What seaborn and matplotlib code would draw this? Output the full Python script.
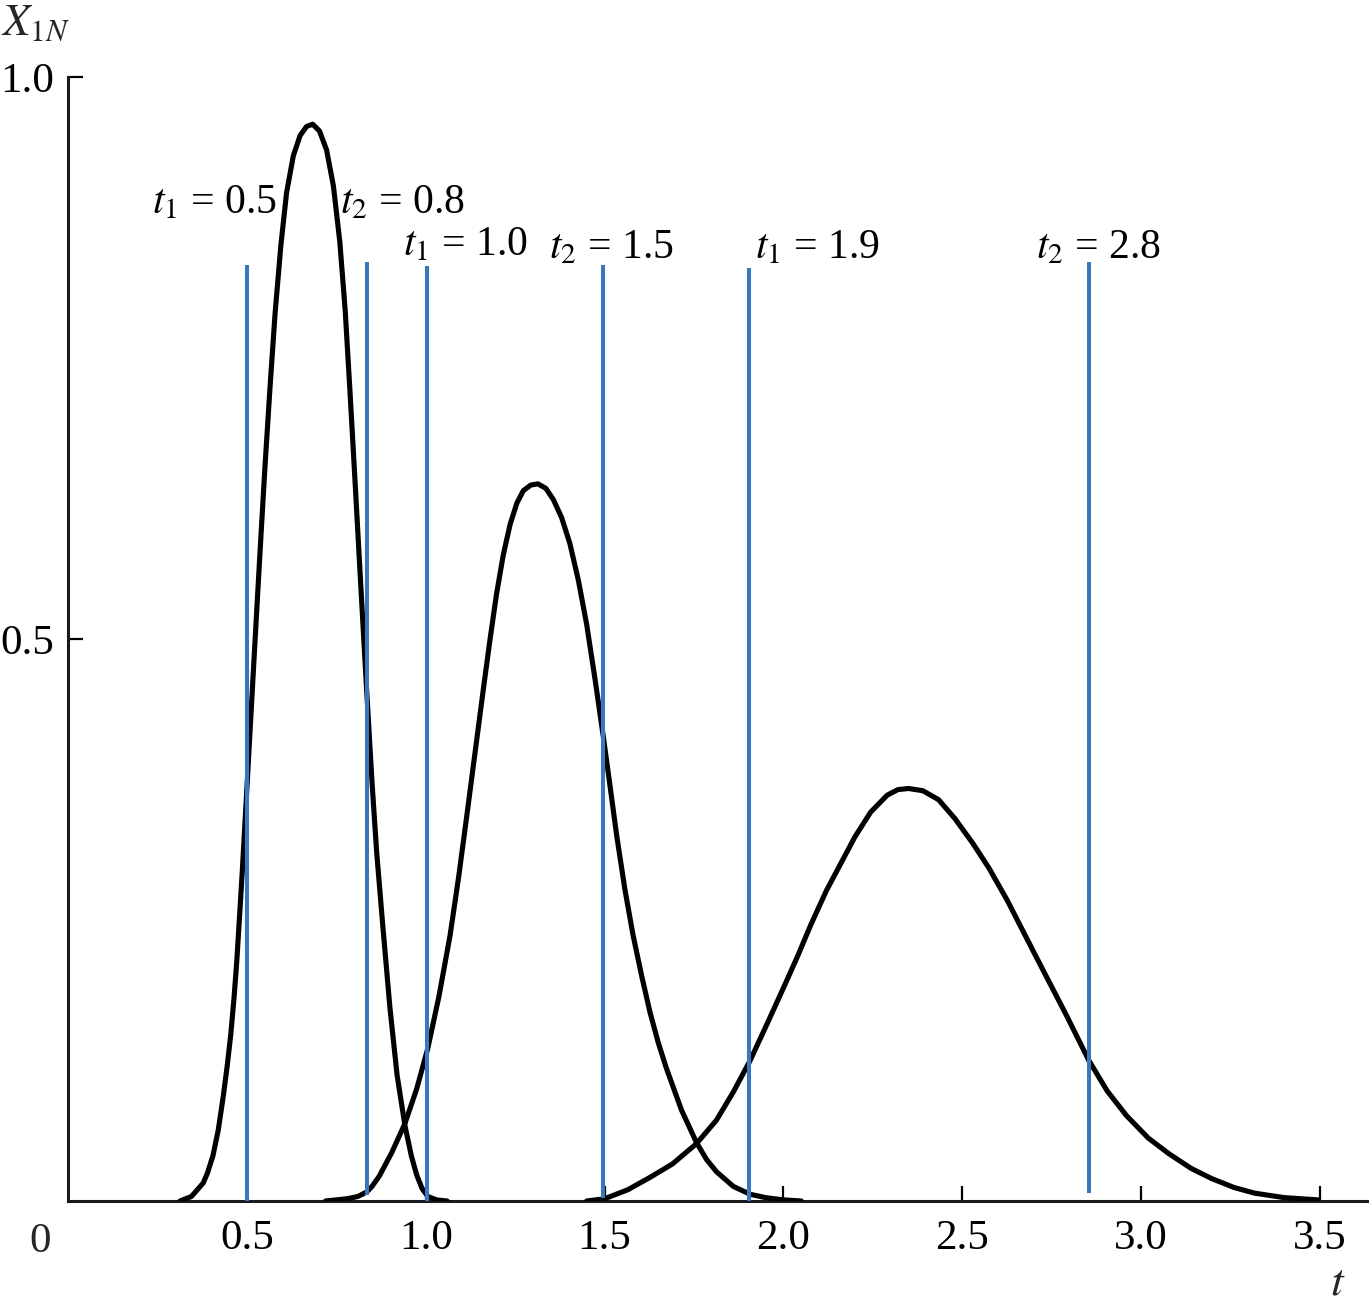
import matplotlib
matplotlib.use("Agg")
import matplotlib.pyplot as plt
import seaborn as sns
import pandas as pd

# ---------------- data ----------------
t_curve1 = [0.313, 0.345, 0.378, 0.390, 0.405, 0.420, 0.434, 0.445, 0.455, 0.464,
            0.472, 0.487, 0.502, 0.515, 0.527, 0.540, 0.551, 0.565, 0.579, 0.595,
            0.611, 0.630, 0.649, 0.667, 0.684, 0.703, 0.723, 0.742, 0.760, 0.775,
            0.788, 0.802, 0.816, 0.835, 0.850, 0.863, 0.880, 0.900, 0.920, 0.942,
            0.960, 0.975, 0.990, 1.006, 1.030, 1.060]
x_curve1 = [0.0, 0.004, 0.016, 0.025, 0.040, 0.063, 0.093, 0.120, 0.148, 0.180,
            0.214, 0.292, 0.378, 0.453, 0.522, 0.595, 0.655, 0.725, 0.790, 0.850,
            0.897, 0.930, 0.948, 0.956, 0.958, 0.952, 0.935, 0.903, 0.853, 0.792,
            0.722, 0.643, 0.562, 0.454, 0.372, 0.310, 0.245, 0.172, 0.112, 0.067,
            0.040, 0.023, 0.011, 0.004, 0.001, 0.0]

t_curve2 = [0.72, 0.78, 0.810, 0.835, 0.850, 0.870, 0.905, 0.942, 0.975, 1.006,
            1.037, 1.068, 1.092, 1.115, 1.138, 1.161, 1.180, 1.198, 1.217, 1.236,
            1.255, 1.273, 1.294, 1.314, 1.336, 1.357, 1.380, 1.403, 1.427, 1.450,
            1.474, 1.497, 1.515, 1.534, 1.557, 1.580, 1.604, 1.627, 1.650, 1.673,
            1.715, 1.757, 1.785, 1.813, 1.860, 1.907, 1.95, 2.0, 2.05]
x_curve2 = [0.0, 0.002, 0.004, 0.008, 0.013, 0.022, 0.043, 0.069, 0.100, 0.136,
            0.182, 0.236, 0.288, 0.343, 0.399, 0.455, 0.500, 0.540, 0.575, 0.602,
            0.621, 0.632, 0.637, 0.638, 0.634, 0.624, 0.608, 0.585, 0.552, 0.513,
            0.463, 0.412, 0.370, 0.325, 0.277, 0.236, 0.200, 0.168, 0.141, 0.118,
            0.081, 0.052, 0.037, 0.026, 0.013, 0.006, 0.003, 0.001, 0.0]

t_curve3 = [1.45, 1.50, 1.565, 1.627, 1.690, 1.757, 1.813, 1.860, 1.907, 1.955,
            2.005, 2.040, 2.077, 2.120, 2.160, 2.200, 2.244, 2.290, 2.320, 2.350,
            2.390, 2.434, 2.480, 2.530, 2.575, 2.625, 2.670, 2.720, 2.790, 2.854,
            2.905, 2.959, 3.020, 3.078, 3.140, 3.197, 3.260, 3.317, 3.40, 3.495]
x_curve3 = [0.0, 0.002, 0.010, 0.021, 0.033, 0.051, 0.072, 0.097, 0.125, 0.158,
            0.193, 0.218, 0.246, 0.276, 0.300, 0.324, 0.346, 0.361, 0.366, 0.367,
            0.365, 0.357, 0.340, 0.318, 0.296, 0.268, 0.240, 0.209, 0.166, 0.125,
            0.098, 0.076, 0.056, 0.042, 0.029, 0.020, 0.012, 0.007, 0.003, 0.001]

# vertical markers (where they sit on the t axis) and their labels
marker_t = [0.5, 0.835, 1.005, 1.497, 1.905, 2.855]
marker_top = [0.833, 0.835, 0.832, 0.833, 0.830, 0.835]
marker_bottom = [0.0, 0.005, 0.0, 0.003, 0.0, 0.007]
marker_labels = [r"$t_1$ = 0.5", r"$t_2$ = 0.8", r"$t_1$ = 1.0",
                 r"$t_2$ = 1.5", r"$t_1$ = 1.9", r"$t_2$ = 2.8"]
label_t = [0.408, 0.934, 1.110, 1.518, 2.094, 2.880]
label_y = [0.879, 0.879, 0.841, 0.839, 0.839, 0.839]

x_ticks = [0.5, 1.0, 1.5, 2.0, 2.5, 3.0, 3.5]
y_ticks = [0.5, 1.0]

BLUE = "#3b77bd"

# ---------------- style ----------------
sns.set_theme(style="ticks")
plt.rcParams["font.family"] = ["Liberation Serif", "DejaVu Serif"]
plt.rcParams["mathtext.fontset"] = "stix"

W, H = 1369, 1308
fig = plt.figure(figsize=(W / 100, H / 100), dpi=100)
ax = fig.add_axes([68 / W, 1 - 1201 / H, (1368 - 68) / W, (1201 - 77) / H])

# ---------------- curves ----------------
curves = pd.concat([
    pd.DataFrame({"t": t_curve1, "x": x_curve1, "curve": "1"}),
    pd.DataFrame({"t": t_curve2, "x": x_curve2, "curve": "2"}),
    pd.DataFrame({"t": t_curve3, "x": x_curve3, "curve": "3"}),
])
for name, grp in curves.groupby("curve"):
    sns.lineplot(data=grp, x="t", y="x", color="black", lw=3.7, sort=False,
                 ax=ax, legend=False, zorder=3, solid_joinstyle="round")

ax.vlines(marker_t, marker_bottom, marker_top, colors=BLUE, lw=2.9, zorder=4)

for lab, lt, ly in zip(marker_labels, label_t, label_y):
    ax.text(lt, ly, lab, ha="center", va="baseline", fontsize=30, color="black")

# ---------------- axes ----------------
ax.set_xlim(0, (1368 - 68) / 357.7)
ax.set_ylim(0, 1.0)
ax.set_xticks(x_ticks)
ax.set_xticklabels([f"{v:.1f}" for v in x_ticks])
ax.set_yticks(y_ticks)
ax.set_yticklabels([f"{v:.1f}" for v in y_ticks])
ax.tick_params(axis="both", direction="in", length=11, width=1.6,
               labelsize=31, colors="black")
ax.tick_params(axis="x", pad=13)
ax.tick_params(axis="y", pad=10)
ax.set_xlabel("")
ax.set_ylabel("")
for side in ["top", "right"]:
    ax.spines[side].set_visible(False)
for side in ["left", "bottom"]:
    ax.spines[side].set_linewidth(2.2)
    ax.spines[side].set_color("#1a1a1a")

ax.text(-0.0215, -0.036, "0", transform=ax.transAxes, ha="center", va="center",
        fontsize=31)
ax.text(0.977, -0.073, "$t$", transform=ax.transAxes, ha="center", va="center",
        fontsize=33)
fig.text(35 / W, 1 - 24 / H, "$X_{1N}$", ha="center", va="center", fontsize=32)

fig.savefig("out.png", dpi=100, facecolor="white")
